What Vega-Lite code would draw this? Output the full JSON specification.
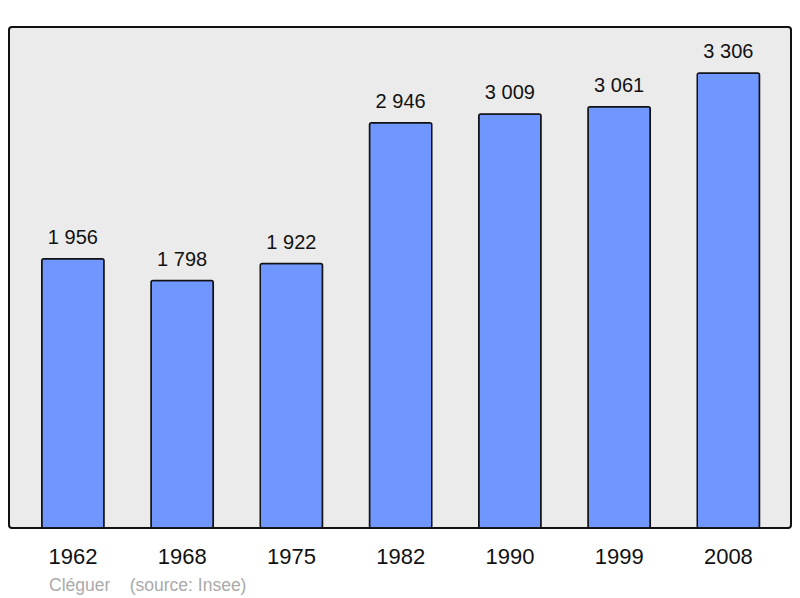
{
  "$schema": "https://vega.github.io/schema/vega-lite/v6.json",
  "width": 782,
  "height": 501,
  "autosize": "none",
  "padding": {"left": 9, "top": 27, "right": 9, "bottom": 70},
  "background": "white",
  "config": {
    "font": "Liberation Sans",
    "view": {"fill": "#ebebeb", "stroke": "#111111", "strokeWidth": 2, "cornerRadius": 3},
    "locale": {"number": {"decimal": ",", "thousands": " ", "grouping": [3], "currency": ["", ""]}}
  },
  "title": {
    "text": "Cléguer\u00a0\u00a0\u00a0\u00a0(source: Insee)",
    "orient": "bottom",
    "anchor": "start",
    "dx": 40,
    "offset": 10,
    "fontSize": 17.5,
    "fontWeight": "normal",
    "color": "#aaaaaa",
    "font": "Liberation Sans"
  },
  "data": {
    "values": [
      {"year": "1962", "pop": 1956},
      {"year": "1968", "pop": 1798},
      {"year": "1975", "pop": 1922},
      {"year": "1982", "pop": 2946},
      {"year": "1990", "pop": 3009},
      {"year": "1999", "pop": 3061},
      {"year": "2008", "pop": 3306}
    ]
  },
  "encoding": {
    "x": {
      "field": "year",
      "type": "ordinal",
      "sort": null,
      "scale": {"paddingInner": 0.43, "paddingOuter": 0.294, "align": 0.51},
      "axis": {
        "title": null,
        "ticks": false,
        "domain": false,
        "labelAngle": 0,
        "labelFontSize": 22,
        "labelColor": "#111111",
        "labelPadding": 18,
        "labelFont": "Liberation Sans"
      }
    },
    "y": {
      "field": "pop",
      "type": "quantitative",
      "scale": {"domain": [0, 3641], "nice": false, "zero": true},
      "axis": null
    }
  },
  "layer": [
    {
      "mark": {"type": "bar", "color": "#7096ff", "stroke": "#111111", "strokeWidth": 1.5, "cornerRadius": 2}
    },
    {
      "mark": {"type": "text", "baseline": "bottom", "dy": -11, "fontSize": 20, "color": "#111111", "font": "Liberation Sans"},
      "encoding": {"text": {"field": "pop", "type": "quantitative", "format": ","}}
    }
  ]
}
